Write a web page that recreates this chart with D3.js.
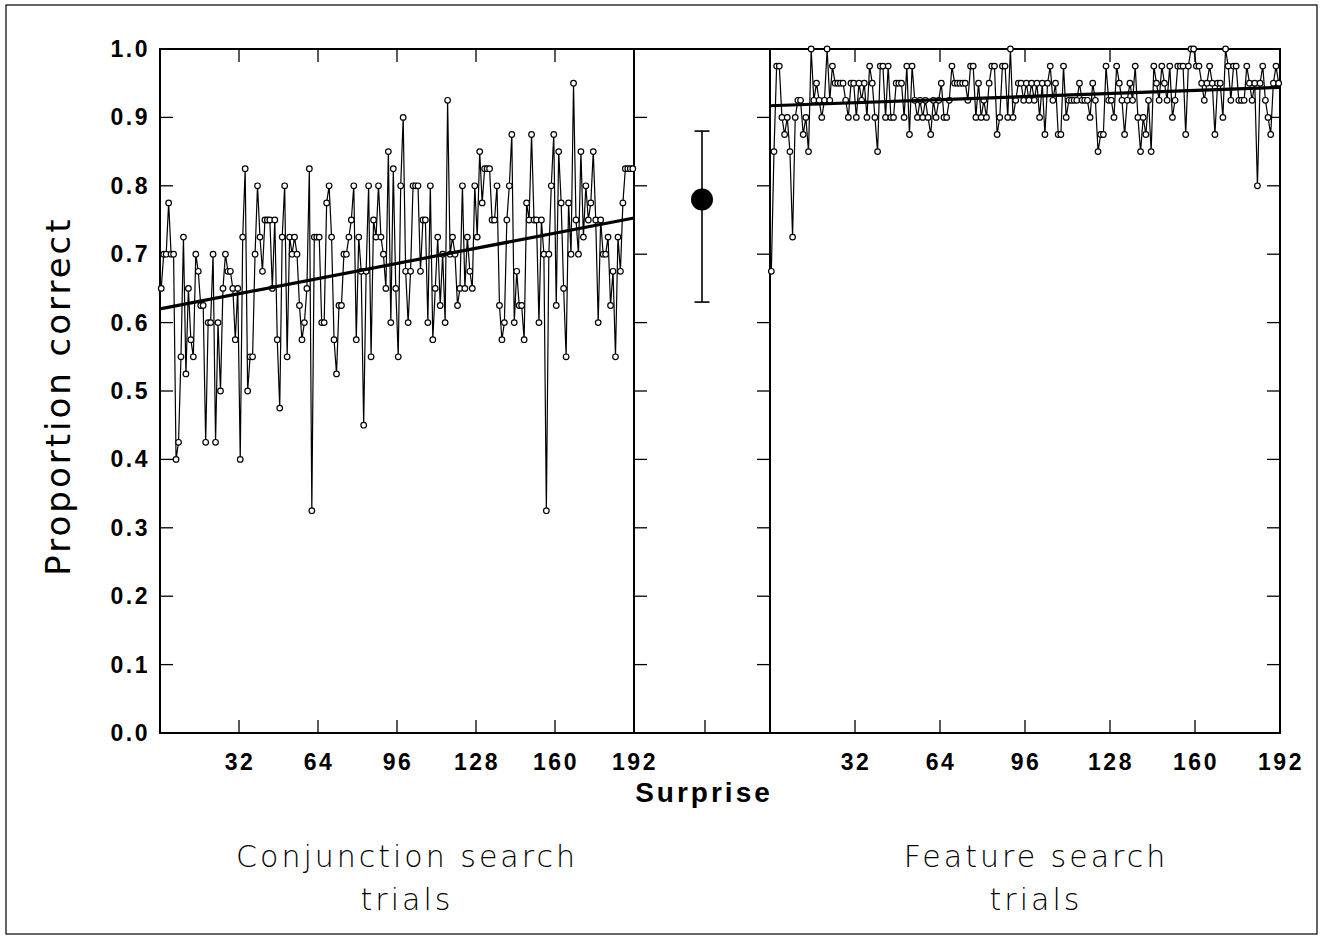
<!DOCTYPE html>
<html><head><meta charset="utf-8">
<script src="https://cdn.jsdelivr.net/npm/d3@7"></script>
<style>body{margin:0;background:#fff}svg{display:block}</style>
</head><body>
<svg id="chart" width="1323" height="940"></svg>
<script>
// ---- data ----
const yTicks = [0.0,0.1,0.2,0.3,0.4,0.5,0.6,0.7,0.8,0.9,1.0];
const xTicks = [32,64,96,128,160,192];
const conjunction = [
 0.65,0.7,0.7,0.775,0.7,0.7,0.4,0.425,0.55,0.725,
 0.525,0.65,0.575,0.55,0.7,0.675,0.625,0.625,0.425,0.6,
 0.6,0.7,0.425,0.6,0.5,0.65,0.7,0.675,0.675,0.65,
 0.575,0.65,0.4,0.725,0.825,0.5,0.55,0.55,0.7,0.8,
 0.725,0.675,0.75,0.75,0.75,0.65,0.75,0.575,0.475,0.725,
 0.8,0.55,0.725,0.7,0.725,0.7,0.625,0.575,0.6,0.65,
 0.825,0.325,0.725,0.725,0.725,0.6,0.6,0.775,0.8,0.725,
 0.575,0.525,0.625,0.625,0.7,0.7,0.725,0.75,0.8,0.575,
 0.725,0.675,0.45,0.675,0.8,0.55,0.75,0.725,0.8,0.725,
 0.7,0.65,0.85,0.6,0.825,0.65,0.55,0.8,0.9,0.675,
 0.6,0.675,0.8,0.8,0.8,0.675,0.75,0.75,0.6,0.8,
 0.575,0.65,0.725,0.625,0.7,0.6,0.925,0.7,0.725,0.7,
 0.625,0.65,0.8,0.65,0.725,0.675,0.65,0.8,0.725,0.85,
 0.775,0.825,0.825,0.825,0.75,0.75,0.8,0.625,0.575,0.6,
 0.75,0.8,0.875,0.6,0.675,0.625,0.625,0.575,0.775,0.75,
 0.875,0.75,0.75,0.6,0.75,0.7,0.325,0.7,0.8,0.875,
 0.625,0.85,0.775,0.65,0.55,0.775,0.7,0.95,0.75,0.7,
 0.85,0.725,0.8,0.75,0.775,0.85,0.75,0.6,0.75,0.7,
 0.7,0.725,0.625,0.675,0.55,0.725,0.675,0.775,0.825,0.825,
 0.825,0.825
];
const feature = [
 0.675,0.85,0.975,0.975,0.9,0.875,0.9,0.85,0.725,0.9,
 0.925,0.925,0.875,0.9,0.85,1.0,0.925,0.95,0.925,0.9,
 0.925,1.0,0.925,0.975,0.95,0.95,0.95,0.95,0.925,0.9,
 0.95,0.95,0.9,0.95,0.925,0.95,0.9,0.975,0.95,0.9,
 0.85,0.975,0.975,0.9,0.975,0.9,0.9,0.95,0.95,0.95,
 0.9,0.975,0.875,0.975,0.925,0.9,0.925,0.9,0.925,0.9,
 0.875,0.925,0.9,0.925,0.95,0.9,0.9,0.925,0.975,0.95,
 0.95,0.95,0.95,0.95,0.925,0.975,0.975,0.9,0.95,0.9,
 0.925,0.9,0.95,0.975,0.975,0.875,0.9,0.975,0.975,0.9,
 1.0,0.9,0.925,0.95,0.95,0.925,0.95,0.925,0.95,0.925,
 0.95,0.9,0.95,0.875,0.95,0.975,0.925,0.95,0.875,0.875,
 0.975,0.9,0.925,0.925,0.925,0.925,0.95,0.925,0.925,0.925,
 0.9,0.95,0.925,0.85,0.875,0.875,0.975,0.925,0.925,0.9,
 0.975,0.95,0.925,0.875,0.925,0.95,0.925,0.975,0.9,0.85,
 0.9,0.875,0.925,0.85,0.975,0.95,0.925,0.975,0.95,0.925,
 0.975,0.9,0.925,0.975,0.975,0.975,0.875,0.975,1.0,1.0,
 0.975,0.975,0.95,0.925,0.95,0.975,0.95,0.875,0.95,0.95,
 0.9,1.0,0.975,0.925,0.975,0.975,0.925,0.925,0.925,0.975,
 0.95,0.925,0.95,0.8,0.95,0.975,0.925,0.9,0.875,0.95,
 0.975,0.95
];
const conjFit = [0.62, 0.753];
const featFit = [0.917, 0.944];
const surprise = {mean: 0.78, lo: 0.63, hi: 0.88};

// ---- layout ----
const svg = d3.select("#chart");
const yTop = 49, yBot = 733;
const y = d3.scaleLinear().domain([0,1]).range([yBot, yTop]);
const xL = d3.scaleLinear().domain([0,192]).range([160,634]);
const xM = d3.scaleLinear().domain([0,1]).range([634,770]);
const xR = d3.scaleLinear().domain([0,192]).range([770,1280]);
const tickLen = 13;
const tickFont = "'Liberation Sans', Arial, sans-serif";

// outer frame
svg.append("rect").attr("x",6).attr("y",5).attr("width",1311).attr("height",929)
  .attr("fill","none").attr("stroke","#000").attr("stroke-width",1.2);

// panel frames
[[160,634],[634,770],[770,1280]].forEach(([a,b])=>{
  svg.append("rect").attr("x",a).attr("y",yTop).attr("width",b-a).attr("height",yBot-yTop)
    .attr("fill","none").attr("stroke","#000").attr("stroke-width",2);
});

// y ticks
const inner = yTicks.slice(1,-1);
const tg = svg.append("g").attr("stroke","#000").attr("stroke-width",1.3);
inner.forEach(v=>{
  const yy = y(v);
  tg.append("line").attr("x1",160).attr("x2",160+tickLen).attr("y1",yy).attr("y2",yy);
  tg.append("line").attr("x1",634).attr("x2",634+tickLen).attr("y1",yy).attr("y2",yy);
  tg.append("line").attr("x1",770).attr("x2",770-tickLen).attr("y1",yy).attr("y2",yy);
  tg.append("line").attr("x1",1280).attr("x2",1280-tickLen).attr("y1",yy).attr("y2",yy);
});
// x ticks
xTicks.slice(0,-1).forEach(t=>{
  [xL(t), xR(t)].forEach(xx=>{
    tg.append("line").attr("x1",xx).attr("x2",xx).attr("y1",yBot).attr("y2",yBot-tickLen);
    tg.append("line").attr("x1",xx).attr("x2",xx).attr("y1",yTop).attr("y2",yTop+tickLen);
  });
});
tg.append("line").attr("x1",xM(0.5)+3).attr("x2",xM(0.5)+3).attr("y1",yBot).attr("y2",yBot-tickLen);

// y tick labels
svg.append("g").selectAll("text").data(yTicks).join("text")
  .attr("x",150).attr("y",d=>y(d)+8).attr("text-anchor","end")
  .attr("font-family",tickFont).attr("font-weight","bold").attr("font-size",23)
  .attr("letter-spacing",2.5)
  .text(d=>d.toFixed(1));

// x tick labels
const xl = svg.append("g").attr("font-family",tickFont).attr("font-weight","bold")
  .attr("font-size",23).attr("letter-spacing",2.5).attr("text-anchor","middle");
xTicks.forEach(t=>{
  xl.append("text").attr("x",xL(t)+1).attr("y",770).text(t);
  xl.append("text").attr("x",xR(t)+1).attr("y",770).text(t);
});

// series
function drawSeries(data, xs){
  const g = svg.append("g");
  const line = d3.line().x((d,i)=>xs(i+0.5)).y(d=>y(d));
  g.append("path").datum(data).attr("d",line).attr("fill","none")
    .attr("stroke","#000").attr("stroke-width",1.2);
  g.selectAll("circle").data(data).join("circle")
    .attr("cx",(d,i)=>xs(i+0.5)).attr("cy",d=>y(d)).attr("r",2.8)
    .attr("fill","#fff").attr("stroke","#000").attr("stroke-width",1.2);
}
drawSeries(conjunction, xL);
drawSeries(feature, xR);

// fit lines
svg.append("line").attr("x1",xL(0)).attr("x2",xL(192)).attr("y1",y(conjFit[0])).attr("y2",y(conjFit[1]))
  .attr("stroke","#000").attr("stroke-width",3.2);
svg.append("line").attr("x1",xR(0)).attr("x2",xR(192)).attr("y1",y(featFit[0])).attr("y2",y(featFit[1]))
  .attr("stroke","#000").attr("stroke-width",3.2);

// surprise error bar
const cx = xM(0.5);
const eg = svg.append("g").attr("stroke","#000").attr("stroke-width",1.6);
eg.append("line").attr("x1",cx).attr("x2",cx).attr("y1",y(surprise.lo)).attr("y2",y(surprise.hi));
eg.append("line").attr("x1",cx-7.5).attr("x2",cx+7.5).attr("y1",y(surprise.lo)).attr("y2",y(surprise.lo));
eg.append("line").attr("x1",cx-7.5).attr("x2",cx+7.5).attr("y1",y(surprise.hi)).attr("y2",y(surprise.hi));
svg.append("circle").attr("cx",cx).attr("cy",y(surprise.mean)).attr("r",11).attr("fill","#000");

// axis titles
svg.append("text").attr("x",704).attr("y",802).attr("text-anchor","middle")
  .attr("font-family",tickFont).attr("font-weight","bold").attr("font-size",28)
  .attr("letter-spacing",3).text("Surprise");

svg.append("text").attr("transform","translate(70,396) rotate(-90)").attr("text-anchor","middle")
  .attr("font-family","'DejaVu Sans', sans-serif").attr("font-size",34)
  .attr("letter-spacing",3).text("Proportion correct");

const lab = svg.append("g").attr("font-family","'DejaVu Sans', sans-serif").attr("font-size",30)
  .attr("font-weight",300).attr("letter-spacing",3).attr("text-anchor","middle");
lab.append("text").attr("x",407).attr("y",867).text("Conjunction search");
lab.append("text").attr("x",407).attr("y",910).text("trials");
lab.append("text").attr("x",1036).attr("y",867).text("Feature search");
lab.append("text").attr("x",1036).attr("y",910).text("trials");
</script>
</body></html>
